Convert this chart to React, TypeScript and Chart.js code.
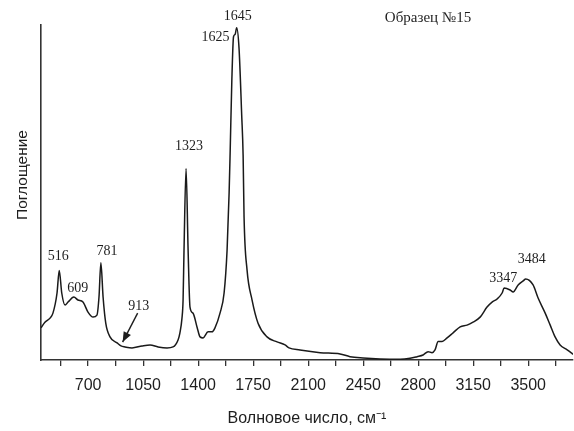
import React, { useEffect, useRef } from "react";
import { Chart, registerables } from "chart.js";

Chart.register(...registerables);

// IR spectrum, sample 15: wavenumber (cm^-1) and absorbance (arb. units)
const wavenumbers = [
  400, 425, 457, 476, 502, 516, 532, 553, 572, 609, 635, 667, 699, 731, 756, 769,
  781, 795, 812, 839, 884, 909, 935, 979, 1043, 1094, 1145, 1202, 1240, 1272, 1284,
  1297, 1304, 1310, 1323, 1336, 1348, 1367, 1393, 1412, 1431, 1463, 1488, 1507,
  1539, 1565, 1584, 1597, 1604, 1614, 1625, 1635, 1645, 1660, 1677, 1686, 1692,
  1711, 1743, 1781, 1838, 1902, 1953, 1978, 2048, 2176, 2303, 2366, 2449, 2557,
  2685, 2748, 2793, 2831, 2863, 2888, 2907, 2927, 2952, 2984, 3022, 3067, 3111,
  3149, 3194, 3238, 3270, 3302, 3334, 3347, 3385, 3404, 3436, 3468, 3484, 3531,
  3563, 3608, 3640, 3671, 3703, 3748, 3774, 3785,
];
const absorbance = [
  0.096, 0.113, 0.125, 0.14, 0.2, 0.267, 0.2, 0.164, 0.173, 0.188, 0.179, 0.173,
  0.143, 0.128, 0.134, 0.188, 0.29, 0.188, 0.11, 0.069, 0.051, 0.042, 0.039, 0.036,
  0.042, 0.045, 0.039, 0.036, 0.039, 0.06, 0.081, 0.125, 0.179, 0.328, 0.572,
  0.328, 0.158, 0.14, 0.098, 0.069, 0.066, 0.084, 0.084, 0.096, 0.14, 0.2, 0.328,
  0.5, 0.63, 0.83, 0.965, 0.972, 0.992, 0.931, 0.731, 0.612, 0.427, 0.269, 0.179,
  0.11, 0.069, 0.054, 0.045, 0.036, 0.03, 0.022, 0.018, 0.01, 0.006, 0.003, 0.002,
  0.005, 0.01, 0.015, 0.025, 0.022, 0.03, 0.055, 0.055, 0.066, 0.081, 0.099, 0.104,
  0.113, 0.128, 0.158, 0.173, 0.182, 0.2, 0.215, 0.209, 0.203, 0.224, 0.236, 0.242,
  0.224, 0.185, 0.14, 0.104, 0.069, 0.045, 0.03, 0.021, 0.017,
];

// Marked bands
const peakWavenumbers = [516, 609, 781, 913, 1323, 1625, 1645, 3347, 3484];

const xMin = 400;
const xMax = 3785;
const tickStep = 175;
const labelStep = 350;

const sampleTitle = "Образец №15";
const xTitle = "Волновое число, см⁻¹";
const yTitle = "Поглощение";

// pixel offsets of each band label from its point on the curve
const labelOffsets: Record<number, [number, number, CanvasTextAlign]> = {
  516: [-1, -14, "center"],
  609: [4, -9, "center"],
  781: [6, -12, "center"],
  913: [17, -40, "center"],
  1323: [3, -22, "center"],
  1625: [-4, 1, "right"],
  1645: [1, -11, "center"],
  3347: [-1, -10, "center"],
  3484: [6, -20, "center"],
};

function valueAt(wn: number): number {
  for (let i = 1; i < wavenumbers.length; i++) {
    if (wavenumbers[i] >= wn) {
      const x0 = wavenumbers[i - 1];
      const x1 = wavenumbers[i];
      const t = (wn - x0) / (x1 - x0);
      return absorbance[i - 1] + t * (absorbance[i] - absorbance[i - 1]);
    }
  }
  return absorbance[absorbance.length - 1];
}

const textColor = "#1e1e1e";

const annotationPlugin = {
  id: "bandLabels",
  afterDatasetsDraw(chart: any) {
    const { ctx, scales } = chart;
    const xs = scales.x;
    const ys = scales.y;
    ctx.save();
    ctx.fillStyle = textColor;
    ctx.strokeStyle = textColor;
    ctx.font = '14px "Liberation Serif", "Times New Roman", serif';
    ctx.textBaseline = "middle";
    for (const wn of peakWavenumbers) {
      const px = xs.getPixelForValue(wn);
      const py = ys.getPixelForValue(valueAt(wn));
      const [dx, dy, align] = labelOffsets[wn];
      ctx.textAlign = align;
      ctx.fillText(String(wn), px + dx, py + dy);
      if (wn === 913) {
        // arrow pointing at the weak band
        const tipX = px + 1;
        const tipY = py - 4;
        const tailX = px + 16;
        const tailY = py - 33;
        ctx.lineWidth = 1.4;
        ctx.beginPath();
        ctx.moveTo(tailX, tailY);
        ctx.lineTo(tipX, tipY);
        ctx.stroke();
        const ang = Math.atan2(tipY - tailY, tipX - tailX);
        const len = 11;
        const half = 0.38;
        ctx.beginPath();
        ctx.moveTo(tipX, tipY);
        ctx.lineTo(tipX - len * Math.cos(ang - half), tipY - len * Math.sin(ang - half));
        ctx.lineTo(tipX - len * Math.cos(ang + half), tipY - len * Math.sin(ang + half));
        ctx.closePath();
        ctx.fill();
      }
    }
    // sample name
    ctx.font = '15px "Liberation Serif", "Times New Roman", serif';
    ctx.textAlign = "center";
    ctx.fillText(sampleTitle, 428, 18);
    // vertical axis title
    ctx.font = '15.5px "Liberation Sans", Arial, sans-serif';
    ctx.translate(23, 175);
    ctx.rotate(-Math.PI / 2);
    ctx.textAlign = "center";
    ctx.fillText(yTitle, 0, 0);
    ctx.restore();
  },
};

export default function App() {
  const canvasRef = useRef<HTMLCanvasElement | null>(null);

  useEffect(() => {
    const canvas = canvasRef.current;
    if (!canvas) return;
    const points = wavenumbers.map((x, i) => ({ x, y: absorbance[i] }));
    const chart = new Chart(canvas, {
      type: "line",
      data: {
        datasets: [
          {
            data: points,
            borderColor: "#1a1a1a",
            borderWidth: 1.5,
            pointRadius: 0,
            fill: false,
            cubicInterpolationMode: "monotone",
          },
        ],
      },
      options: {
        animation: false,
        responsive: false,
        maintainAspectRatio: false,
        layout: { padding: { top: 25, right: 1, left: 0, bottom: 0 } },
        plugins: {
          legend: { display: false },
          tooltip: { enabled: false },
        },
        scales: {
          x: {
            type: "linear",
            min: xMin,
            max: xMax,
            afterFit: (s: any) => {
              s.height = 71;
            },
            border: { display: true, color: "#333", width: 1.6 },
            grid: {
              display: true,
              drawOnChartArea: false,
              drawTicks: true,
              tickLength: 6,
              color: "#333",
              lineWidth: 1.3,
            },
            ticks: {
              stepSize: tickStep,
              includeBounds: false,
              autoSkip: false,
              maxRotation: 0,
              padding: 10,
              color: textColor,
              font: { family: '"Liberation Sans", Arial, sans-serif', size: 16 },
              callback: (v: any) => (Number(v) % labelStep === 0 ? String(v) : ""),
            },
            title: {
              display: true,
              text: xTitle,
              color: textColor,
              font: { family: '"Liberation Sans", Arial, sans-serif', size: 16 },
              padding: { top: 0, bottom: 3 },
            },
          },
          y: {
            type: "linear",
            min: 0,
            max: 1,
            afterFit: (s: any) => {
              s.width = 41;
            },
            border: { display: true, color: "#333", width: 1.6 },
            grid: { display: false },
            ticks: { display: false },
          },
        },
      },
      plugins: [annotationPlugin],
    });
    return () => chart.destroy();
  }, []);

  return (
    <div style={{ position: "fixed", left: 0, top: 0, width: 574, height: 431, background: "#fff" }}>
      <canvas ref={canvasRef} width={574} height={431} style={{ display: "block" }} />
    </div>
  );
}
